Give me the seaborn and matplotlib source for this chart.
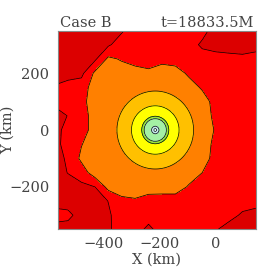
import numpy as np
import matplotlib
matplotlib.use("Agg")
import matplotlib.pyplot as plt
import seaborn as sns

# ---------------------------------------------------------------
# data (km)
# ---------------------------------------------------------------
# outer field on a coarse grid: <1 dark red, 1-2 red, 2-3 orange
x_grid = np.arange(-576, 145, 48)
y_grid = np.arange(350, -351, -50)
outer_field = np.array([
    [0.5, 0.5, 0.5, 0.5, 0.5, 0.88, 1.5, 1.5, 1.5, 1.5, 1.5, 1.4, 0.5, 0.5, 0.5, 0.5],
    [0.5, 0.5, 0.5, 0.5, 0.86, 1.5, 1.5, 1.5, 1.5, 1.5, 1.5, 0.8, 0.5, 0.5, 0.5, 0.5],
    [0.5, 0.5, 0.5, 0.82, 2.2, 1.9, 1.5, 1.5, 1.7, 1.5, 1.5, 1.5, 1.5, 1.34, 1.24, 1.5],
    [0.5, 0.5, 0.76, 2.18, 2.5, 2.5, 2.5, 2.22, 2.5, 2.5, 1.8, 1.5, 1.5, 1.5, 1.5, 1.5],
    [1.1, 1.5, 1.48, 2.5, 2.5, 2.5, 2.5, 2.5, 2.5, 2.5, 2.5, 1.86, 1.5, 1.5, 1.5, 1.5],
    [1.3, 1.5, 1.7, 2.5, 2.5, 2.5, 2.5, 2.5, 2.5, 2.5, 2.5, 2.5, 1.6, 1.5, 1.5, 1.5],
    [0.5, 1.04, 1.48, 2.48, 2.5, 2.5, 2.5, 2.5, 2.5, 2.5, 2.5, 2.5, 1.76, 1.5, 1.5, 1.5],
    [0.5, 1.5, 1.48, 2.48, 2.5, 2.5, 2.5, 2.5, 2.5, 2.5, 2.5, 2.5, 1.92, 1.5, 1.5, 1.5],
    [0.6, 1.5, 1.96, 2.5, 2.5, 2.5, 2.5, 2.5, 2.5, 2.5, 2.5, 2.5, 1.74, 1.5, 1.5, 1.5],
    [0.5, 1.2, 2.2, 2.5, 2.5, 2.5, 2.5, 2.5, 2.5, 2.5, 2.5, 2.5, 1.6, 1.5, 1.5, 1.5],
    [0.5, 1.04, 1.5, 2.5, 2.5, 2.5, 2.5, 2.5, 2.5, 2.5, 2.5, 2.0, 1.5, 1.5, 1.5, 1.5],
    [0.5, 0.5, 0.76, 1.0, 2.32, 2.5, 2.5, 2.5, 2.5, 2.5, 1.9, 1.5, 1.5, 1.5, 1.5, 1.5],
    [0.5, 0.5, 0.5, 0.5, 1.02, 1.76, 1.88, 1.54, 1.5, 1.5, 1.5, 1.5, 1.5, 1.5, 1.5, 1.5],
    [1.5, 1.3, 0.5, 0.5, 0.86, 1.5, 1.5, 1.5, 1.5, 1.5, 1.5, 1.5, 1.5, 1.4, 0.82, 0.5],
    [0.5, 0.5, 0.5, 0.5, 0.84, 1.5, 1.5, 0.7, 1.5, 1.5, 1.5, 1.5, 1.1, 0.5, 0.5, 0.5],
])
outer_levels = [-1, 1, 2, 3]
outer_colors = ["#dc0000", "#ff0000", "#ff8000"]

# nearly circular core: radial profile around the centre
core_center = (-216, 0)
core_radius = [0, 5, 13, 40, 48, 85, 137, 200]
core_value = [8.6, 8.0, 7.0, 6.0, 5.0, 4.0, 3.0, 2.0]
core_levels = [3, 4, 5, 6, 7, 8, 10]
core_colors = ["#ffc000", "#ffff00", "#9be636", "#a4f0a4", "#c4eef0", "#e6ffff"]

title_left = "Case B"
title_right = "t=18833.5M"
x_range = (-565, 143)
y_range = (-348, 348)
x_major = [-400, -200, 0]
y_major = [-200, 0, 200]

# ---------------------------------------------------------------
# style
# ---------------------------------------------------------------
sns.set_style("ticks")
plt.rcParams["font.family"] = ["DejaVu Serif"]
plt.rcParams["font.size"] = 10.5
text_color = "#444444"

fig = plt.figure(figsize=(2.7, 2.7), dpi=100)
ax = fig.add_axes([0.2137, 0.152, 0.733, 0.733])

# outer field
ax.contourf(x_grid, y_grid, outer_field, levels=outer_levels, colors=outer_colors)
ax.contour(x_grid, y_grid, outer_field, levels=[1, 2], colors="k", linewidths=0.5)

# core
cx = np.linspace(core_center[0] - 210, core_center[0] + 210, 301)
cy = np.linspace(core_center[1] - 210, core_center[1] + 210, 301)
CX, CY = np.meshgrid(cx, cy)
R = np.hypot(CX - core_center[0], CY - core_center[1])
core_field = np.interp(R, core_radius, core_value)
ax.contourf(CX, CY, core_field, levels=core_levels, colors=core_colors)
ax.contour(CX, CY, core_field, levels=core_levels[:-1], colors="k", linewidths=0.5)

ax.set_xlim(*x_range)
ax.set_ylim(*y_range)
ax.set_xticks(x_major)
ax.set_yticks(y_major)
ax.xaxis.set_minor_locator(matplotlib.ticker.MultipleLocator(100))
ax.yaxis.set_minor_locator(matplotlib.ticker.MultipleLocator(100))
ax.tick_params(which="both", direction="in", top=True, right=True,
               color="k", width=0.7, labelcolor=text_color)
ax.tick_params(which="major", length=6.5, pad=6)
ax.tick_params(which="minor", length=3.2)
for spine in ax.spines.values():
    spine.set_linewidth(0.8)
    spine.set_color("#888888")

ax.set_xlabel("X (km)", color=text_color, labelpad=1)
ax.set_ylabel("Y (km)", color=text_color)
ax.yaxis.set_label_coords(-0.215, 0.5)

ax.text(0.01, 1.02, title_left, transform=ax.transAxes, ha="left",
        va="baseline", color=text_color)
ax.text(0.99, 1.02, title_right, transform=ax.transAxes, ha="right",
        va="baseline", color=text_color)

fig.savefig("out.png", dpi=100)
